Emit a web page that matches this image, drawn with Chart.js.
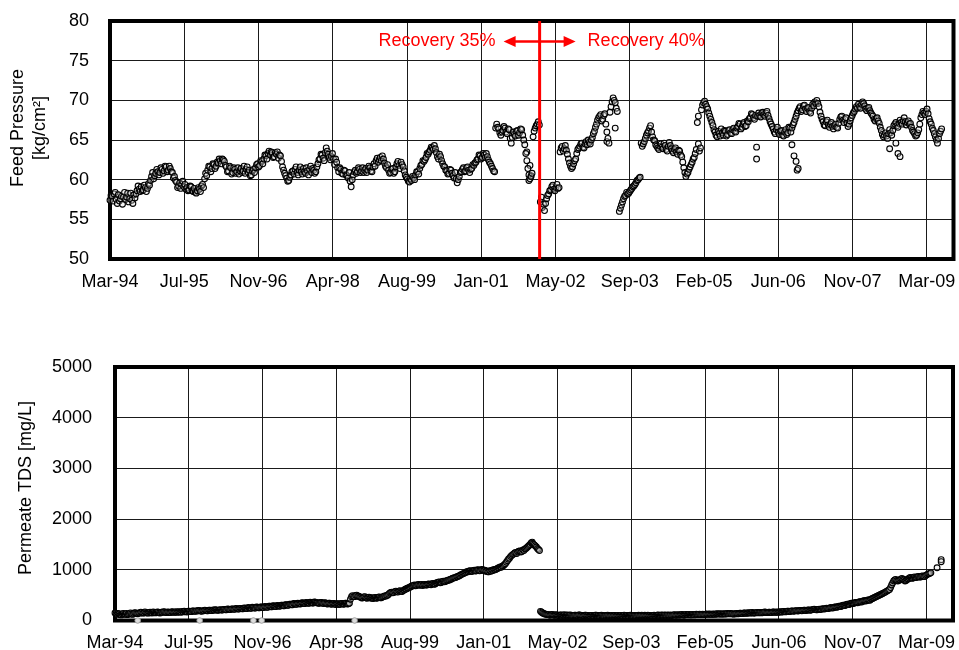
<!DOCTYPE html>
<html>
<head>
<meta charset="utf-8">
<script src="https://cdn.jsdelivr.net/npm/chart.js@4.4.1/dist/chart.umd.min.js"></script>
<style>
  html, body { margin: 0; padding: 0; background: #fff; }
  #wrap { position: relative; width: 959px; height: 650px; overflow: hidden; background: #fff; }
  canvas { position: absolute; left: 0; }
</style>
</head>
<body>
<div id="wrap">
  <canvas id="pressureChart" width="959" height="330" style="top:0"></canvas>
  <canvas id="tdsChart" width="959" height="320" style="top:330px"></canvas>
</div>
<script>
// Date axis: day 0 = 1 March 1994, one gridline every 500 days
const dateTickLabels = ['Mar-94', 'Jul-95', 'Nov-96', 'Apr-98', 'Aug-99', 'Jan-01',
                        'May-02', 'Sep-03', 'Feb-05', 'Jun-06', 'Nov-07', 'Mar-09'];
const tickStepDays = 500;
const axisEndDay = 5680;

// Readings are logged weekly from day 0
const sampleStepDays = 7;

// Feed pressure [kg/cm2], one value per weekly reading (null = no reading)
const feedPressure = [
  57.4, 58.0, 57.9, 57.3, 58.2, 58.4, 57.5, 57.0, 58.1, 57.3, 57.6, 57.9, 56.9, 57.8, 58.4, 57.5, 57.8, 58.3, 57.2, 57.6,
  58.3, 57.4, 57.0, 58.1, 57.7, 58.2, 58.6, 59.2, 58.8, 58.5, 59.1, 58.6, 58.7, 59.3, 59.0, 58.5, 58.9, 59.5, 59.3, 59.9,
  60.4, 60.9, 60.1, 60.5, 60.8, 61.3, 61.0, 60.6, 60.9, 61.5, 61.3, 60.8, 61.1, 61.7, 61.6, 61.0, 61.2, 61.7, 61.4, 61.0,
  60.9, 60.2, 60.4, 59.9, 59.7, 59.0, 59.2, 59.6, 58.9, 59.4, 59.8, 59.1, 59.4, 58.8, 59.0, 58.6, 58.7, 59.2, 59.1, 58.6,
  58.5, 58.9, 58.4, 58.3, 58.6, 59.0, 58.8, 58.5, 59.2, 59.4, 59.0, 60.1, 60.8, 60.5, 61.2, 61.7, 61.6, 61.0, 61.4, 62.0,
  61.9, 61.4, 61.7, 62.2, 62.1, 62.6, 62.4, 62.0, 62.6, 62.5, 62.3, 61.8, 61.6, 61.0, 61.1, 61.7, 61.5, 60.7, 60.9, 61.5,
  61.3, 60.8, 61.0, 61.5, 60.7, 61.1, 61.4, 60.9, 61.1, 61.7, 60.8, 61.3, 61.6, 60.9, 61.2, 60.5, 60.6, 61.1, 61.3, 60.9,
  61.5, 61.9, 62.0, 61.6, 61.8, 62.4, 62.3, 62.0, 62.6, 63.1, 63.0, 62.6, 63.3, 63.6, 63.1, 63.5, 63.4, 62.8, 62.9, 63.4,
  63.2, 63.5, 62.7, 63.1, 63.0, 62.3, 61.6, 61.2, 60.8, 60.5, 60.2, 59.8, 59.9, 60.3, 60.6, 61.0, 61.1, 60.7, 61.3, 61.6,
  60.9, 60.6, 61.2, 61.6, 61.0, 60.7, 61.4, 61.0, 60.8, 61.5, 61.1, 60.6, 61.3, 61.7, 60.9, 61.4, 61.2, 60.8, 61.0, 61.6,
  62.0, 62.5, 62.6, 63.2, 63.1, 62.7, 62.4, 63.4, 64.0, 63.6, 63.2, 62.8, 62.5, 62.9, 63.3, 62.6, 61.9, 62.6, 62.2, 61.5,
  61.0, 61.5, 61.3, 60.8, 60.7, 61.2, 61.1, 60.6, 60.5, 60.2, 60.9, 59.8, 59.1, 60.0, 60.6, 61.0, 61.2, 60.8, 61.0, 61.5,
  61.3, 60.9, 61.1, 61.5, 60.9, 61.2, 61.4, 60.9, 61.2, 61.7, 61.5, 61.1, 61.0, 61.6, 62.0, 61.7, 62.4, 62.7, 62.2, 62.5,
  62.8, 62.4, 63.0, 62.6, 62.1, 61.7, 61.5, 61.9, 61.2, 60.8, 60.9, 61.3, 61.4, 60.8, 61.0, 61.6, 62.0, 62.3, 61.8, 61.4,
  62.2, 61.9, 61.6, 61.1, 60.6, 60.3, 60.1, 59.8, 59.7, 60.1, 59.9, 60.4, 60.2, 60.0, 60.6, 61.0, 61.0, 60.7, 61.4, 61.8,
  61.9, 62.4, 62.3, 62.5, 62.8, 63.3, 63.2, 63.5, 63.7, 64.1, 64.0, 63.8, 64.3, 63.9, 63.4, 62.9, 62.6, 63.2, 62.9, 62.4,
  62.0, 61.7, 61.6, 61.2, 61.1, 60.7, 60.8, 61.3, 61.2, 60.8, 60.5, 60.2, 60.9, 60.1, 59.6, 60.0, 60.4, 60.9, 61.0, 61.3,
  61.5, 61.0, 61.1, 61.5, 61.6, 61.2, 60.9, 61.3, 61.4, 61.9, 61.8, 62.1, 62.2, 62.5, 62.6, 63.1, 63.0, 62.6, 62.8, 63.3,
  63.1, 62.8, 63.3, 62.9, 62.5, 62.2, 62.0, 61.7, 61.4, 61.1, 61.0, 66.5, 67.0, 66.6, 66.4, 65.9, 65.6, 66.0, 66.2, 66.7,
  66.5, 66.0, 65.8, 66.4, 66.3, 65.2, 64.6, 65.3, 66.0, 65.7, 65.5, 66.1, 66.2, 65.6, 65.9, 66.4, 66.3, 65.6, 65.0, 64.4,
  63.3, 62.4, 61.4, 60.6, 60.1, 60.4, 60.8, 65.4, 66.1, 66.5, 66.8, 67.0, 67.3, 66.9, 57.2, 57.8, 56.5, 56.9, 56.1, 57.0,
  57.6, 58.0, 58.2, 58.6, 58.7, 59.1, 59.3, 58.8, 58.6, 59.0, 59.4, 58.9, 59.0, 63.5, 64.0, 64.2, 63.6, 63.9, 64.3, 63.7,
  63.2, 62.6, 62.1, 61.7, 61.4, 61.6, 62.0, 62.4, 62.6, 63.3, 63.8, 64.0, 64.2, 64.5, 64.6, 64.1, 64.0, 64.5, 64.8, 64.4,
  65.0, 64.7, 64.5, 65.0, 65.3, 65.8, 66.1, 66.6, 67.0, 67.5, 67.8, 68.0, 68.2, 67.4, 67.6, 68.1, 68.3, 67.0, 66.0, 65.2,
  64.6, 68.5, 69.2, 69.8, 70.3, 70.0, 69.7, 69.0, 68.6, null, 56.0, 56.4, 56.8, 57.2, 57.6, 57.9, 58.0, 58.4, 58.2, 58.3,
  58.5, 58.7, 58.9, 59.1, 59.2, 59.4, 59.6, 59.9, 60.0, 60.2, 60.3, 64.6, 64.2, 64.5, 64.8, 65.2, 65.6, 65.9, 66.1, 66.5,
  66.8, 66.0, 65.4, 65.0, 64.9, 64.4, 64.2, 64.0, 63.8, 64.2, 64.5, 64.1, 63.9, 64.6, 64.3, 63.8, 63.6, 64.2, 64.7, 64.3,
  63.9, 63.6, 63.4, 63.8, 64.0, 63.5, 63.2, 63.7, 63.6, 63.1, 62.9, 62.2, 61.5, 60.9, 60.4, 60.7, 60.9, 61.3, 61.6, 61.9,
  62.2, 62.6, 62.8, 63.3, 63.8, 67.2, 68.0, 63.6, 64.0, 68.8, 69.4, 69.7, 69.9, 69.5, 69.2, 68.9, 68.4, 68.0, 67.6, 67.2,
  66.8, 66.3, 66.0, 65.6, 65.4, 66.1, 65.8, 65.5, 66.4, 65.9, 65.6, 66.2, 66.1, 65.5, 65.7, 66.2, 66.3, 65.9, 65.8, 66.3,
  66.5, 66.1, 66.0, 66.5, 66.7, 67.1, 67.0, 66.4, 66.6, 67.0, 67.2, 66.7, 66.8, 67.4, 67.3, 67.7, 67.8, 68.3, 68.2, 67.8,
  67.6, 68.1, 62.6, 68.0, 68.4, 68.1, 67.9, 68.4, 68.5, 68.2, 68.0, 68.4, 68.6, 68.1, 67.7, 67.3, 67.0, 66.7, 66.4, 66.0,
  65.8, 66.3, 66.6, 66.0, 65.7, 66.1, 66.2, 65.6, 65.5, 66.0, 66.3, 65.7, 65.9, 66.6, 66.5, 66.0, 66.5, 66.9, 67.2, 67.6,
  68.0, 68.4, 68.7, 69.0, 69.2, 68.6, 68.8, 69.3, 69.4, 68.9, 68.6, 69.0, 69.1, 68.6, 68.4, 69.0, 69.5, 69.3, 69.8, 69.6,
  70.0, 69.6, 69.2, 68.5, 68.0, 67.6, 67.3, 66.9, 66.8, 67.3, 67.5, 66.9, 66.6, 67.0, 67.2, 66.7, 66.4, 66.8, 67.0, 66.6,
  66.5, 67.1, 67.6, 67.9, 68.0, 67.5, 67.2, 67.6, 67.8, 67.1, 66.7, 67.0, 67.4, 67.8, 68.1, 68.4, 68.6, 68.9, 69.2, 69.0,
  69.5, 69.2, 69.0, 69.5, 69.8, 69.6, 69.3, 68.9, 68.7, 69.0, 69.1, 68.7, 68.4, 68.2, 68.0, 67.6, 67.4, 67.7, 67.8, 67.4,
  67.1, 66.6, 66.2, 65.7, 65.4, 65.6, 65.9, 65.5, 65.2, 65.8, 66.3, 65.9, 65.6, 66.2, 66.8, 67.0, 67.2, 66.8, 66.6, 67.1,
  67.5, 67.2, 67.0, 67.4, 67.8, 67.3, 66.9, 67.2, 67.4, 67.0, 67.1, 66.6, 66.2, 66.0, 65.8, 65.5, 65.6, 65.9, 66.3, 67.0,
  67.8, 68.2, 68.6, 68.4, 68.2, 68.6, 68.9, 68.3, 67.7, 67.3, 67.0, 66.5, 66.2, 65.8, 65.4, 65.0, 64.6, 65.2, 65.8, 66.1,
  66.4
];

// Off-trend pressure readings taken in the same weeks: [reading number, kg/cm2]
const pressureExtraReadings = [
  [401, 63.5], [403, 59.9], [404, 61.8], [405, 60.5], [478, 64.8], [486, 66.5],
  [566, 64.5], [622, 64.1], [656, 64.4], [658, 63.0], [660, 62.3], [661, 61.2],
  [662, 61.4], [750, 63.9], [756, 64.6], [758, 63.3], [760, 62.9]
];

// Permeate TDS [mg/L], one value per weekly reading (null = no reading)
const permeateTDS = [
  150, 135, 120, 140, 130, 115, 110, 130, 140, 120, 125, 140, 115, 125, 135, 150, 130, 120, 140, 155,
  150, 140, 135, 150, 145, 165, 160, 145, 150, 170, 155, 150, 145, 160, 165, 150, 150, 170, 160, 150,
  155, 170, 165, 150, 150, 165, 160, 175, 170, 160, 155, 170, 165, 155, 160, 175, 170, 160, 165, 175,
  160, 170, 175, 165, 165, 180, 170, 185, 180, 170, 170, 185, 185, 175, 175, 190, 190, 180, 180, 195,
  185, 200, 195, 185, 180, 195, 190, 205, 200, 190, 190, 205, 205, 195, 195, 210, 200, 215, 210, 200,
  200, 210, 215, 205, 205, 220, 220, 210, 210, 230, 225, 215, 215, 230, 230, 220, 220, 240, 235, 225,
  225, 240, 240, 230, 230, 250, 245, 235, 235, 255, 250, 240, 240, 260, 255, 245, 245, 265, 260, 250,
  250, 265, 265, 255, 255, 275, 270, 260, 260, 280, 280, 270, 270, 290, 285, 275, 275, 295, 290, 280,
  285, 300, 300, 290, 290, 310, 310, 300, 300, 320, 320, 310, 310, 335, 330, 320, 320, 340, 335, 325,
  330, 350, 345, 335, 335, 355, 350, 340, 340, 360, 355, 345, 345, 365, 360, 350, 350, 340, 340, 355,
  355, 340, 335, 350, 345, 330, 325, 340, 340, 325, 320, 335, 335, 320, 315, 330, 330, 315, 320, 335,
  335, 320, 325, 340, 340, 325, 330, 340, 420, 470, 490, 470, 470, 495, 500, 480, 480, 465, 460, 445,
  450, 465, 470, 450, 440, 455, 460, 445, 450, 440, 435, 450, 455, 440, 445, 460, 465, 450, 450, 465,
  470, 485, 480, 495, 500, 520, 540, 555, 560, 545, 550, 570, 580, 565, 560, 580, 590, 575, 570, 590,
  600, 615, 620, 635, 640, 650, 660, 675, 680, 690, 700, 685, 690, 705, 710, 695, 700, 710, 690, 705,
  710, 700, 700, 715, 720, 710, 705, 725, 730, 715, 720, 740, 745, 755, 760, 745, 750, 770, 775, 765,
  770, 785, 790, 800, 800, 815, 820, 835, 840, 845, 850, 865, 870, 880, 890, 905, 910, 925, 930, 940,
  950, 965, 960, 975, 980, 965, 970, 985, 990, 975, 980, 1000, 995, 980, 985, 1005, 1000, 985, 990, 970,
  975, 960, 960, 980, 970, 990, 985, 1005, 1000, 1010, 1020, 1035, 1040, 1055, 1050, 1070, 1080, 1100, 1120, 1150,
  1180, 1210, 1230, 1260, 1280, 1300, 1310, 1330, 1340, 1320, 1350, 1365, 1370, 1350, 1360, 1390, 1380, 1410, 1420, 1440,
  1460, 1480, 1500, 1530, 1520, 1505, 1490, 1470, 1450, 1420, 1400, 1380, 180, 165, 150, 140, 130, 125, 120, 115,
  115, 105, 110, 120, 115, 105, 105, 115, 110, 100, 100, 110, 110, 100, 105, 115, 100, 105, 110, 100,
  105, 110, 100, 95, 95, 105, 105, 95, 100, 110, 110, 100, 100, 90, 95, 105, 105, 95, 100, 90,
  90, 100, 100, 90, 95, 105, 105, 95, 100, 90, 95, 105, 100, 90, 90, 100, 95, 105, 100, 90,
  95, 100, 90, 100, 100, 90, 95, 100, 90, 95, 100, 90, 95, 105, 90, 95, 100, 90, 95, 105,
  100, 95, 90, 100, 95, 90, 100, 105, 95, 100, 105, 95, 100, 105, 95, 100, 105, 95, 100, 90,
  95, 100, 105, 95, 100, 105, 110, 100, 100, 110, 105, 100, 110, 105, 100, 110, 105, 100, 110, 100,
  105, 110, 115, 105, 105, 115, 110, 105, 115, 120, 110, 105, 115, 120, 110, 115, 120, 110, 110, 120,
  115, 110, 120, 125, 115, 120, 125, 115, 115, 125, 120, 115, 125, 130, 120, 125, 130, 120, 120, 130,
  125, 120, 130, 135, 125, 130, 135, 125, 125, 135, 130, 125, 135, 140, 130, 135, 140, 130, 135, 125,
  130, 135, 140, 130, 135, 145, 145, 135, 140, 150, 150, 140, 145, 155, 150, 145, 155, 160, 145, 150,
  150, 155, 160, 150, 155, 160, 150, 155, 160, 170, 165, 155, 155, 165, 165, 155, 160, 170, 170, 160,
  165, 170, 160, 170, 175, 165, 170, 180, 180, 170, 175, 185, 185, 175, 180, 190, 190, 180, 185, 195,
  195, 185, 190, 200, 200, 190, 195, 205, 205, 195, 200, 210, 210, 200, 205, 215, 215, 225, 220, 210,
  210, 220, 225, 215, 220, 235, 230, 225, 235, 245, 240, 235, 245, 255, 250, 245, 255, 265, 265, 260,
  270, 280, 280, 275, 290, 300, 300, 295, 310, 320, 320, 315, 330, 340, 340, 335, 345, 355, 355, 350,
  360, 370, 370, 365, 380, 390, 390, 385, 395, 405, 405, 400, 420, 430, 440, 450, 460, 470, 480, 490,
  500, 510, 520, 530, 540, 550, 560, 575, 585, 600, 610, 650, 700, 740, 780, 800, 810, 790, 780, 795,
  800, 815, 830, 810, 800, 780, 790, 810, 820, 835, 850, 840, 830, 845, 860, 845, 850, 865, 870, 855,
  860, 875, 880, 865, 870, 890, 900, 915, 920, 930, 940, null, null, null, null, null, 1040, null, null, null,
  1160
];

// Extra TDS readings: [reading number, mg/L]
const tdsExtraReadings = [[404, 1545], [800, 1200]];
// Zero TDS readings (sensor dropouts): [reading number, mg/L]
const tdsLowReadings = [[22, 0], [82, 0], [134, 0], [142, 0], [232, 0]];

// Recovery was raised from 35% to 40% at this day
const recoveryChangeDay = 2893;
const recoveryLabels = ['Recovery 35%', 'Recovery 40%'];

const FONT = '"Liberation Sans", Arial, Helvetica, sans-serif';
Chart.defaults.font.family = FONT;
Chart.defaults.font.size = 18;
Chart.defaults.color = '#000';

const toPoints = (values) => values
  .map((v, i) => (v === null ? null : { x: i * sampleStepDays, y: v }))
  .filter(Boolean);
const pairsToPoints = (pairs) => pairs.map(([i, v]) => ({ x: i * sampleStepDays, y: v }));

// Open circles: a faint fill lets the outlines of overlapping readings show through
const markerStyle = {
  pointRadius: 2.9,
  pointBackgroundColor: 'rgba(225,225,225,0.35)',
  pointBorderColor: '#000',
  pointBorderWidth: 1.1,
  clip: false
};

// Thick box round the plot area, plus the rotated y-axis title
const framePlugin = {
  id: 'plotFrame',
  beforeDatasetsDraw(chart) {
    const { ctx, chartArea: a } = chart;
    ctx.save();
    ctx.lineWidth = 4;
    ctx.strokeStyle = '#000';
    ctx.strokeRect(a.left, a.top, a.right - a.left, a.bottom - a.top);
    ctx.restore();
  },
  afterDraw(chart, args, opts) {
    const ctx = chart.ctx;
    ctx.save();
    ctx.font = '18px ' + FONT;
    ctx.fillStyle = '#000';
    ctx.textAlign = 'center';
    ctx.textBaseline = 'middle';
    opts.lines.forEach((line, k) => {
      ctx.save();
      ctx.translate(opts.x + k * 21.6, opts.y);
      ctx.rotate(-Math.PI / 2);
      ctx.fillText(line, 0, 0);
      ctx.restore();
    });
    ctx.restore();
  }
};

// Red marker for the change of recovery, with double arrow and labels
const recoveryPlugin = {
  id: 'recoveryMarker',
  afterDatasetsDraw(chart) {
    const { ctx, chartArea: a, scales } = chart;
    const px = scales.x.getPixelForValue(recoveryChangeDay);
    const ay = a.top + 20.5;
    ctx.save();
    ctx.strokeStyle = '#ff0000';
    ctx.fillStyle = '#ff0000';
    ctx.lineWidth = 3;
    ctx.beginPath();
    ctx.moveTo(px, a.top);
    ctx.lineTo(px, a.bottom);
    ctx.stroke();

    ctx.lineWidth = 2.5;
    ctx.beginPath();
    ctx.moveTo(px - 26, ay);
    ctx.lineTo(px + 26, ay);
    ctx.stroke();
    [-1, 1].forEach((dir) => {
      ctx.beginPath();
      ctx.moveTo(px + dir * 36, ay);
      ctx.lineTo(px + dir * 24, ay - 5.5);
      ctx.lineTo(px + dir * 24, ay + 5.5);
      ctx.closePath();
      ctx.fill();
    });

    ctx.font = '18px ' + FONT;
    ctx.textBaseline = 'middle';
    ctx.textAlign = 'right';
    ctx.fillText(recoveryLabels[0], px - 44, ay);
    ctx.textAlign = 'left';
    ctx.fillText(recoveryLabels[1], px + 48, ay);
    ctx.restore();
  }
};

function dateAxis(labelPadding, axisHeight) {
  return {
    type: 'linear',
    min: 0,
    max: axisEndDay,
    afterBuildTicks: (s) => {
      s.ticks = dateTickLabels.map((_, k) => ({ value: k * tickStepDays }));
    },
    afterFit: (s) => {
      s.height = axisHeight;
      s.paddingLeft = 0;
      s.paddingRight = 0;
    },
    ticks: {
      callback: (v, k) => dateTickLabels[k],
      autoSkip: false,
      maxRotation: 0,
      minRotation: 0,
      padding: labelPadding
    },
    grid: { color: '#1a1a1a', lineWidth: 1, drawTicks: false },
    border: { display: false }
  };
}

function valueAxis(min, max, step, labelPadding, axisWidth) {
  return {
    type: 'linear',
    min, max,
    afterFit: (s) => {
      s.width = axisWidth;
      s.paddingTop = 0;
      s.paddingBottom = 0;
    },
    ticks: { stepSize: step, padding: labelPadding, callback: (v) => String(v) },
    grid: { color: '#1a1a1a', lineWidth: 1, drawTicks: false },
    border: { display: false }
  };
}

const commonOptions = {
  responsive: false,
  animation: false,
  devicePixelRatio: 1,
  events: []
};

new Chart(document.getElementById('pressureChart'), {
  type: 'scatter',
  data: {
    datasets: [
      { data: toPoints(feedPressure), ...markerStyle },
      { data: pairsToPoints(pressureExtraReadings), ...markerStyle }
    ]
  },
  options: {
    ...commonOptions,
    layout: { padding: { top: 21, right: 5.5, left: 0, bottom: 0 } },
    scales: {
      x: dateAxis(12.5, 71),
      y: valueAxis(50, 80, 5, 21, 110)
    },
    plugins: {
      legend: { display: false },
      tooltip: { enabled: false },
      plotFrame: { lines: ['Feed Pressure', '[kg/cm²]'], x: 18.4, y: 128 }
    }
  },
  plugins: [framePlugin, recoveryPlugin]
});

new Chart(document.getElementById('tdsChart'), {
  type: 'scatter',
  data: {
    datasets: [
      { data: toPoints(permeateTDS), ...markerStyle },
      { data: pairsToPoints(tdsExtraReadings), ...markerStyle },
      {
        data: pairsToPoints(tdsLowReadings),
        pointRadius: 2.8,
        pointBackgroundColor: '#dcdcdc',
        pointBorderColor: '#9a9a9a',
        pointBorderWidth: 0.9,
        clip: false
      }
    ]
  },
  options: {
    ...commonOptions,
    layout: { padding: { top: 37, right: 6, left: 0, bottom: 0 } },
    scales: {
      x: dateAxis(11.5, 29.5),
      y: valueAxis(0, 5000, 1000, 23, 115)
    },
    plugins: {
      legend: { display: false },
      tooltip: { enabled: false },
      plotFrame: { lines: ['Permeate TDS [mg/L]'], x: 26, y: 158 }
    }
  },
  plugins: [framePlugin]
});
</script>
</body>
</html>
